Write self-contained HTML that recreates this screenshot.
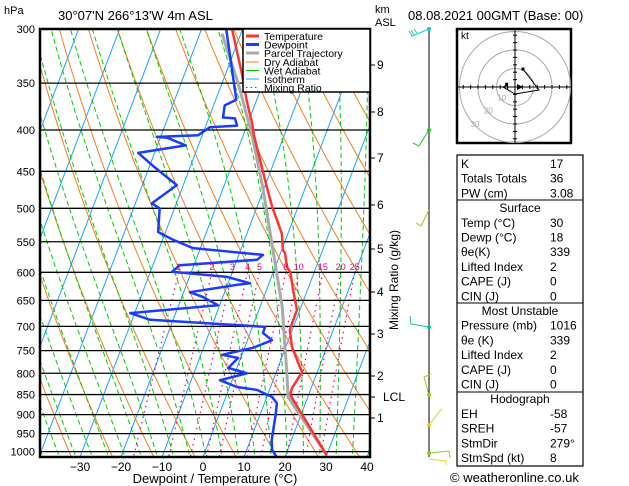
<!DOCTYPE html>
<html><head><meta charset="utf-8"><style>
html,body{margin:0;padding:0;background:#fff;}
svg{display:block;font-family:"Liberation Sans",sans-serif;}
</style></head><body>
<svg id="chart" width="629" height="486" viewBox="0 0 629 486" xmlns="http://www.w3.org/2000/svg">
<defs><clipPath id="plotclip"><rect x="40" y="29" width="330" height="428"/></clipPath></defs>
<rect width="629" height="486" fill="#fff"/>
<g id="bg" clip-path="url(#plotclip)"></g>
<g id="plines"></g>
<g id="series" clip-path="url(#plotclip)"></g>
<g id="mrlabels"></g>
<rect x="40" y="29" width="330" height="428" fill="none" stroke="#000" stroke-width="2.5"/>
<g>
<rect x="243" y="29" width="127" height="63" fill="#fff" stroke="#000" stroke-width="1.5"/>
<g font-size="10.5" fill="#000">
<line x1="246" y1="36" x2="259" y2="36" stroke="#ff3333" stroke-width="3"/><text x="264" y="40">Temperature</text>
<line x1="246" y1="44.5" x2="259" y2="44.5" stroke="#1a3cff" stroke-width="3"/><text x="264" y="48.5">Dewpoint</text>
<line x1="246" y1="53" x2="259" y2="53" stroke="#aaa" stroke-width="3"/><text x="264" y="57">Parcel Trajectory</text>
<line x1="246" y1="62" x2="259" y2="62" stroke="#f08020" stroke-width="1"/><text x="264" y="66">Dry Adiabat</text>
<line x1="246" y1="70.5" x2="259" y2="70.5" stroke="#00cc00" stroke-width="1"/><text x="264" y="74.5">Wet Adiabat</text>
<line x1="246" y1="79" x2="259" y2="79" stroke="#1aa3ff" stroke-width="1"/><text x="264" y="83">Isotherm</text>
<line x1="246" y1="87.5" x2="259" y2="87.5" stroke="#e6007e" stroke-width="1" stroke-dasharray="1.5,3"/><text x="264" y="91.5">Mixing Ratio</text>
</g></g>
<text x="4" y="14" font-size="11">hPa</text>
<text x="58" y="20" font-size="13">30°07'N  266°13'W  4m  ASL</text>
<text x="375" y="13" font-size="11">km</text>
<text x="375" y="26" font-size="11">ASL</text>
<text x="408" y="20" font-size="13">08.08.2021  00GMT  (Base: 00)</text>
<g id="ylabels" font-size="11" text-anchor="end"></g>
<g id="xlabels" font-size="12" text-anchor="middle"></g>
<text x="215" y="483" font-size="13" text-anchor="middle">Dewpoint / Temperature (°C)</text>
<g id="kmaxis" font-size="12"></g>
<text transform="translate(398,280) rotate(-90)" font-size="12" text-anchor="middle">Mixing Ratio (g/kg)</text>
<g fill="none" stroke-width="1">
<line x1="429" y1="29" x2="429" y2="457" stroke="#000"/>
<polyline points="429,29 412,36 409,31" stroke="#1ac8c8"/><polyline points="414,35 411,30" stroke="#1ac8c8"/><polyline points="417,33 414,29" stroke="#1ac8c8"/>
<polyline points="429,130 419,146 413,143" stroke="#22cc22"/>
<polyline points="429,210 421,226 416,223" stroke="#99cc22"/>
<polyline points="429,327 411,324 410,316" stroke="#10c890"/>
<polyline points="429,395 424,377 431,374" stroke="#99cc22"/>
<polyline points="429,425 440,411 442,409" stroke="#ddcc22"/>
<polyline points="429,453 449,451 450,458" stroke="#88cc22"/>
<polyline points="429,459 446,461 446,465" stroke="#dddd22"/>
<circle cx="429" cy="29" r="2" fill="#1ac8c8"/><circle cx="429" cy="130" r="2" fill="#22cc22"/><circle cx="429" cy="327" r="2" fill="#10c890"/><circle cx="429" cy="395" r="2" fill="#99cc22"/><circle cx="429" cy="425" r="2" fill="#ddcc22"/><circle cx="429" cy="453" r="2" fill="#88cc22"/>
</g>
<g id="hodo">
<rect x="457" y="29" width="114" height="114" fill="#fff" stroke="#000" stroke-width="2.5"/>
<text x="461" y="39" font-size="10">kt</text>
</g>
<g font-size="12">
<rect x="457" y="155" width="126" height="311" fill="none" stroke="#000" stroke-width="1.2"/>
<line x1="457" y1="200" x2="583" y2="200" stroke="#000"/>
<line x1="457" y1="303" x2="583" y2="303" stroke="#000"/>
<line x1="457" y1="392" x2="583" y2="392" stroke="#000"/>
<g id="tbl"></g>
</g>
<text x="450" y="482" font-size="13">© weatheronline.co.uk</text>
<script>
const tempP=[300,339,370,392,406,471,498,537,563,568,591,600,631,668,687,707,742,786,797,816,834,850,863,1010];
const tempT=[-32.6,-26.3,-22.1,-19.0,-17.4,-9.4,-6.3,-1.5,0.3,1.1,2.9,4.2,6.5,9.3,9.3,9.4,11.5,15.3,16.3,15.8,15.3,15.5,16.7,30.0];
const dewP=[300,367,373,386,387,395,397,406,408,409,418,427,445,468,493,500,535,547,560,571,579,588,599,608,619,622,635,644,659,674,687,699,701,713,728,744,759,766,788,800,816,832,839,856,871,896,968,995,1016];
const dewT=[-34.0,-25.0,-27.3,-26.6,-23.6,-22.4,-28.9,-31.0,-40.9,-38.3,-33.1,-44.0,-38.6,-31.6,-36.0,-33.6,-31.8,-27.4,-21.8,-4.1,-5.1,-23.4,-24.7,-10.8,-4.7,-7.7,-18.5,-14.8,-10.4,-31.1,-25.6,-0.7,3.1,3.1,6.0,2.1,-4.8,-0.6,-2.1,3.0,-3.0,1.8,7.0,11.3,13.0,13.7,15.2,16.2,18.0];
const parcelP=[304,350,404,471,555,662,800,856,1010];
const parcelT=[-34.6,-26.1,-18.1,-10.4,-2.8,5.4,12.7,15.2,30.0];
const pressureTicks=[300,350,400,450,500,550,600,650,700,750,800,850,900,950,1000];
const tempTicks=[-30,-20,-10,0,10,20,30,40];
const kmTicks=[9,8,7,6,5,4,3,2,1];
const kmY=[65,112,158,205,249,292,334,376,418];
const mixRatios=[1,2,3,4,5,8,10,15,20,25];
const hodoU=[4.3,9.7,13,0,-6.5,-4.3];
const hodoV=[9.7,2.7,-1.6,-3.8,0,1.1];
const tableLabels=["K","Totals Totals","PW (cm)","","Temp (°C)","Dewp (°C)","θe(K)","Lifted Index","CAPE (J)","CIN (J)","","Pressure (mb)","θe (K)","Lifted Index","CAPE (J)","CIN (J)","","EH","SREH","StmDir","StmSpd (kt)"];
const tableValues=["17","36","3.08","Surface","30","18","339","2","0","0","Most Unstable","1016","339","2","0","0","Hodograph","-58","-57","279°","8"];

const NS="http://www.w3.org/2000/svg";
function yP(p){return 29+351*Math.log(p/300);}
function xT(t,p){return 203+4.1*t+0.38*(457-yP(p));}
function mk(tag,attrs,parent){const e=document.createElementNS(NS,tag);for(const k in attrs)e.setAttribute(k,attrs[k]);parent.appendChild(e);return e;}
const bg=document.getElementById('bg');
function pathFrom(fn,p1,p2,n){let d='';for(let i=0;i<=n;i++){const p=p1+(p2-p1)*i/n;const t=fn(p);d+=(i?'L':'M')+xT(t,p).toFixed(1)+','+yP(p).toFixed(1);}return d;}
for(let t=-120;t<=40;t+=10){const e=mk('path',{d:pathFrom(()=>t,280,1030,2),stroke:'#1aa3ff','stroke-width':1,fill:'none'},bg);

}
for(let th=240;th<=480;th+=10){const e=mk('path',{d:pathFrom(p=>th*Math.pow(p/1000,0.286)-273.15,280,1030,40),stroke:'#f08020','stroke-width':1,fill:'none'},bg);

}
function es(t){return 6.112*Math.exp(17.67*t/(t+243.5));}
function dTdp(T,p){const rs=0.622*es(T-273.15)/(p-es(T-273.15));const Lv=2.5e6,Rd=287,cp=1005;return (1/p)*(Rd*T+Lv*rs)/(cp+Lv*Lv*rs*0.622/(Rd*T*T));}
function moist(t0){const pts=[];let Tb=t0+273.15;for(let pp=1000;pp<1030;pp+=2){Tb+=dTdp(Tb,pp)*2;}
 pts.push([1030,Tb-273.15]);let Tc=Tb;for(let pp=1030;pp>280;pp-=5){Tc-=dTdp(Tc,pp)*5;pts.push([pp-5,Tc-273.15]);}return pts;}
for(let tw=-40;tw<=40;tw+=4){const pts=moist(tw);let d='';pts.forEach((q,i)=>{d+=(i?'L':'M')+xT(q[1],q[0]).toFixed(1)+','+yP(q[0]).toFixed(1);});
const e=mk('path',{d:d,stroke:'#00cc00','stroke-width':1,fill:'none','stroke-dasharray':'5,3'},bg);

}
const mrl=document.getElementById('mrlabels');
mixRatios.forEach(w=>{const f=p=>{const e=w*p/(622+w);const l=Math.log(e/6.112);return 243.5*l/(17.67-l);};
const e=mk('path',{d:pathFrom(f,600,1030,10),stroke:'#e6007e','stroke-width':1.2,fill:'none','stroke-dasharray':'1.5,4'},bg);


const tx=mk('text',{x:xT(f(600),600).toFixed(1),y:270,'font-size':9,fill:'#e6007e','text-anchor':'middle'},mrl);tx.textContent=w;

});
const pl=document.getElementById('plines'),yl=document.getElementById('ylabels');
pressureTicks.forEach(p=>{const l=mk('line',{x1:40,x2:370,y1:yP(p),y2:yP(p),stroke:'#000','stroke-width':1.3},pl);


const t=mk('text',{x:35,y:yP(p)+4},yl);t.textContent=p;

});
const xl=document.getElementById('xlabels');
tempTicks.forEach(t=>{const x=203+4.1*t;const e=mk('text',{x:x,y:471},xl);e.textContent=t<0?'−'+(-t):t;

});
const km=document.getElementById('kmaxis');
kmTicks.forEach((k,i)=>{mk('line',{x1:370,x2:375,y1:kmY[i],y2:kmY[i],stroke:'#000'},km);const e=mk('text',{x:377,y:kmY[i]+4},km);e.textContent=k;

});
mk('line',{x1:370,x2:375,y1:397,y2:397,stroke:'#000'},km);
const lcl=mk('text',{x:383,y:401},km);lcl.textContent='LCL';


const sr=document.getElementById('series');
function line(P,T,color,w,name){let d='';P.forEach((p,i)=>{d+=(i?'L':'M')+xT(T[i],p).toFixed(1)+','+yP(p).toFixed(1);});
const e=mk('path',{d:d,stroke:color,'stroke-width':w,fill:'none','stroke-linejoin':'round'},sr);

}
line(parcelP,parcelT,'#aaaaaa',3,'parcel-trajectory-line');
line(tempP,tempT,'#ff3333',2.5,'temperature-line');
line(dewP,dewT,'#1a3cff',2.5,'dewpoint-line');
const hg=document.getElementById('hodo');const cx=515,cy=87,sc=1.85;
[10,20,30].forEach(r=>{mk('circle',{cx:cx,cy:cy,r:r*sc,fill:'none',stroke:'#aaa'},hg);});
mk('line',{x1:457,x2:571,y1:cy,y2:cy,stroke:'#000'},hg);mk('line',{x1:cx,x2:cx,y1:29,y2:143,stroke:'#000'},hg);
for(let i=-28;i<=28;i+=4){mk('line',{x1:cx+i*sc,x2:cx+i*sc,y1:cy-2,y2:cy+2,stroke:'#000'},hg);mk('line',{y1:cy+i*sc,y2:cy+i*sc,x1:cx-2,x2:cx+2,stroke:'#000'},hg);}
[[10,'10'],[20,'20'],[30,'30']].forEach(a=>{const t=mk('text',{x:cx-a[0]*sc*0.72,y:cy+a[0]*sc*0.72,'font-size':8,fill:'#aaa','text-anchor':'middle'},hg);t.textContent=a[1];});
let hd='';hodoU.forEach((u,i)=>{hd+=(i?'L':'M')+(cx+u*sc).toFixed(1)+','+(cy-hodoV[i]*sc).toFixed(1);});
const hp=mk('path',{d:hd,stroke:'#000',fill:'none','stroke-width':1},hg);


mk('rect',{x:cx+hodoU[0]*sc-1.5,y:cy-hodoV[0]*sc-1.5,width:3,height:3,fill:'#000'},hg);
mk('rect',{x:cx-4.5*sc-1.5,y:cy-1.5*sc-1.5,width:3,height:3,fill:'#000'},hg);
mk('polygon',{points:(cx+2)+','+(cy-3)+' '+(cx+8)+','+cy+' '+(cx+2)+','+(cy+3),fill:'#000'},hg);
const tb=document.getElementById('tbl');
tableLabels.forEach((l,i)=>{const y=168+i*14.7;
 if(l===''){const t=mk('text',{x:520,y:y,'text-anchor':'middle'},tb);t.textContent=tableValues[i];
 
 }
 else{const a=mk('text',{x:461,y:y},tb);a.textContent=l;
 
 
 const b=mk('text',{x:550,y:y},tb);b.textContent=tableValues[i];
 
 }});
</script>
</svg>
</body></html>
